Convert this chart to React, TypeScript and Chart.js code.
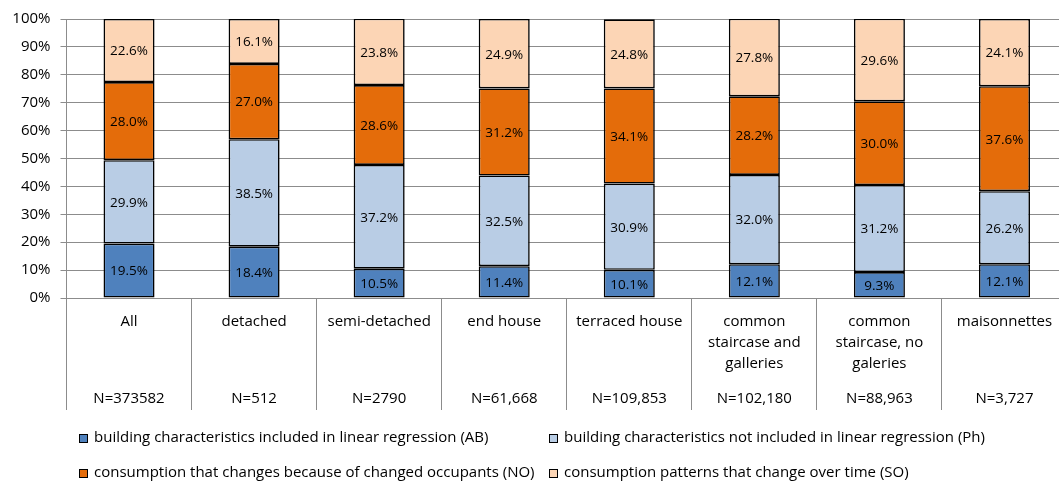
import React, { useEffect, useRef } from "react";
import { Chart, registerables } from "chart.js";

Chart.register(...registerables);

const categoryLabels: string[][] = [
  ["All"],
  ["detached"],
  ["semi-detached"],
  ["end house"],
  ["terraced house"],
  ["common", "staircase and", "galleries"],
  ["common", "staircase, no", "galeries"],
  ["maisonnettes"],
];
const sampleSizes = ["N=373582", "N=512", "N=2790", "N=61,668", "N=109,853", "N=102,180", "N=88,963", "N=3,727"];

const seriesNames = [
  "building characteristics included in linear regression (AB)",
  "building characteristics not included in linear regression (Ph)",
  "consumption that changes because of changed occupants (NO)",
  "consumption patterns that change over time (SO)",
];
const valuesAB = [19.5, 18.4, 10.5, 11.4, 10.1, 12.1, 9.3, 12.1];
const valuesPh = [29.9, 38.5, 37.2, 32.5, 30.9, 32.0, 31.2, 26.2];
const valuesNO = [28.0, 27.0, 28.6, 31.2, 34.1, 28.2, 30.0, 37.6];
const valuesSO = [22.6, 16.1, 23.8, 24.9, 24.8, 27.8, 29.6, 24.1];
const seriesColors = ["#4F81BD", "#B9CDE5", "#E46C0A", "#FCD5B5"];
const yTicks = [0, 10, 20, 30, 40, 50, 60, 70, 80, 90, 100];

const FONT = "'Open Sans', Carlito, Lato, sans-serif";
const GRID = "#8c8c8c";

const dataLabelPlugin = {
  id: "dataLabels",
  afterDatasetsDraw(chart: any) {
    const ctx = chart.ctx;
    ctx.save();
    ctx.font = `13.5px ${FONT}`;
    ctx.fillStyle = "#000";
    ctx.textAlign = "center";
    ctx.textBaseline = "middle";
    chart.data.datasets.forEach((ds: any, i: number) => {
      const meta = chart.getDatasetMeta(i);
      meta.data.forEach((el: any, j: number) => {
        const p = el.getProps(["x", "y", "base"], true);
        ctx.fillText(Number(ds.data[j]).toFixed(1) + "%", p.x, (p.y + p.base) / 2 + 1);
      });
    });
    ctx.restore();
  },
};

const categoryLabelPlugin = {
  id: "categoryLabels",
  afterDraw(chart: any) {
    const ctx = chart.ctx;
    const xs = chart.scales.x;
    const bottom = chart.chartArea.bottom;
    ctx.save();
    ctx.font = `15px ${FONT}`;
    ctx.fillStyle = "#000";
    ctx.textAlign = "center";
    ctx.textBaseline = "middle";
    categoryLabels.forEach((lines, i) => {
      const x = xs.getPixelForValue(i);
      lines.forEach((line, k) => ctx.fillText(line, x, bottom + 24 + k * 21));
      ctx.fillText(sampleSizes[i], x, bottom + 101);
    });
    ctx.restore();
  },
};

const legendPlugin = {
  id: "customLegend",
  afterDraw(chart: any) {
    const ctx = chart.ctx;
    const h = chart.height;
    const cols = [79, 549];
    const rows = [h - 45, h - 10];
    ctx.save();
    ctx.font = `15px ${FONT}`;
    ctx.textAlign = "left";
    ctx.textBaseline = "middle";
    chart.data.datasets.forEach((ds: any, i: number) => {
      const x = cols[i % 2];
      const y = rows[Math.floor(i / 2)];
      ctx.fillStyle = ds.backgroundColor;
      ctx.fillRect(x, y - 4, 8, 8);
      ctx.strokeStyle = "#000";
      ctx.lineWidth = 1;
      ctx.strokeRect(x + 0.5, y - 3.5, 8, 8);
      ctx.fillStyle = "#000";
      ctx.fillText(ds.label, x + 15, y);
    });
    ctx.restore();
  },
};

export default function App() {
  const ref = useRef<HTMLCanvasElement | null>(null);
  useEffect(() => {
    document.body.style.margin = "0";
    const canvas = ref.current!;
    const chart = new Chart(canvas, {
      type: "bar",
      data: {
        labels: categoryLabels.map((l) => l.join(" ")),
        datasets: [valuesAB, valuesPh, valuesNO, valuesSO].map((d, i) => ({
          label: seriesNames[i],
          data: d,
          backgroundColor: seriesColors[i],
          borderColor: "#000",
          borderWidth: 1.6,
          borderSkipped: false,
          categoryPercentage: 1,
          barPercentage: 0.408,
        })),
      },
      options: {
        animation: false,
        responsive: false,
        devicePixelRatio: 1,
        layout: { padding: { left: 0, right: 3, top: 18, bottom: 73 } },
        plugins: { legend: { display: false }, tooltip: { enabled: false } },
        scales: {
          x: {
            stacked: true,
            offset: true,
            grid: { offset: true, drawOnChartArea: false, drawTicks: true, tickLength: 112, color: GRID },
            border: { color: GRID },
            ticks: { display: false },
            afterFit: (s: any) => {
              s.height = 112;
            },
          },
          y: {
            stacked: true,
            min: 0,
            max: 100,
            afterBuildTicks: (s: any) => {
              s.ticks = yTicks.map((v) => ({ value: v }));
            },
            ticks: {
              callback: (v: any) => v + "%",
              color: "#000",
              font: { family: FONT, size: 15 },
              padding: 10,
            },
            grid: { color: GRID, tickLength: 6 },
            border: { color: GRID },
            afterFit: (s: any) => {
              s.width = 66.5;
            },
          },
        },
      },
      plugins: [dataLabelPlugin, categoryLabelPlugin, legendPlugin],
    });
    return () => chart.destroy();
  }, []);
  return (
    <div style={{ width: 1059, height: 483, overflow: "hidden" }}>
      <canvas ref={ref} width={1070} height={483} style={{ display: "block" }} />
    </div>
  );
}
